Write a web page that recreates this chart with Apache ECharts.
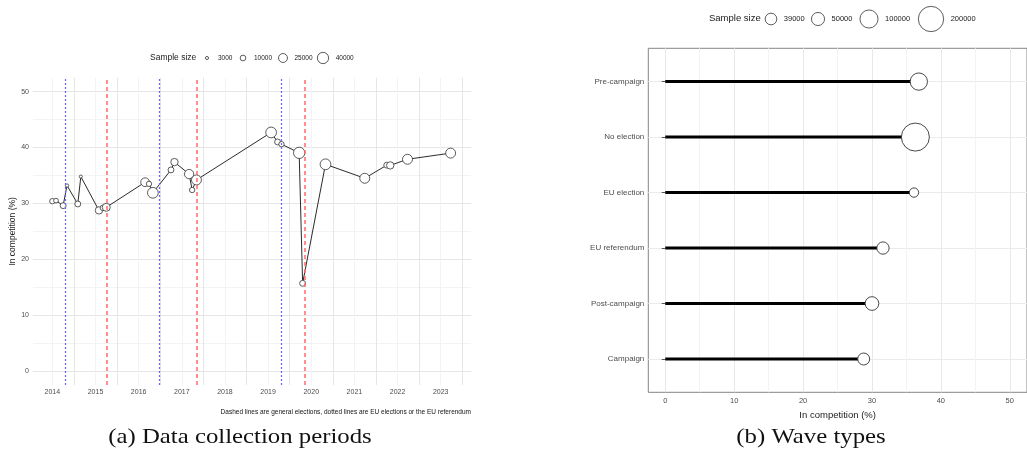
<!DOCTYPE html>
<html><head><meta charset="utf-8">
<script src="https://cdn.jsdelivr.net/npm/echarts@6/dist/echarts.min.js"></script>
<style>html,body{margin:0;padding:0;background:#fff}#c{width:1027px;height:456px}</style>
</head><body><div id="c"></div>
<script>
// ---- Panel (a): data collection periods ----
const periodDates = [2014.00, 2014.085, 2014.25, 2014.34, 2014.59, 2014.66, 2015.08, 2015.17, 2015.25,
  2016.15, 2016.24, 2016.33, 2016.75, 2016.83, 2017.17, 2017.24, 2017.34,
  2019.07, 2019.22, 2019.31, 2019.72, 2019.80, 2020.33, 2021.24, 2021.75, 2021.83, 2022.23, 2023.23];
const periodValues = [30.4, 30.5, 29.6, 33.2, 29.9, 34.8, 28.75, 29.2, 29.3,
  33.8, 33.5, 31.9, 36.0, 37.4, 35.25, 32.4, 34.2,
  42.7, 41.0, 40.6, 39.05, 15.7, 37.0, 34.5, 36.85, 36.8, 37.9, 39.0];
const periodSamples = [9000, 7000, 11000, 3500, 11000, 3000, 17000, 9000, 20000,
  24000, 9000, 36000, 11000, 17000, 27000, 9000, 31000,
  36000, 11000, 9000, 40000, 11000, 36000, 31000, 11000, 17000, 31000, 31000];
const generalElections = [2015.267, 2017.352, 2019.854];
const euVotes = [2014.309, 2016.479, 2019.314];
const yearTicks = [2014, 2015, 2016, 2017, 2018, 2019, 2020, 2021, 2022, 2023];
const leftYTicks = [0, 10, 20, 30, 40, 50];
const leftSizeBreaks = [3000, 10000, 25000, 40000];
const captionText = 'Dashed lines are general elections, dotted lines are EU elections or the EU referendum';

// ---- Panel (b): wave types ----
const waveTypes = ['Campaign', 'Post-campaign', 'EU referendum', 'EU election', 'No election', 'Pre-campaign'];
const waveValues = [28.8, 30.0, 31.6, 36.1, 36.3, 36.8];
const waveSamples = [41000, 55000, 43600, 23000, 246000, 91000];
const rightXTicks = [0, 10, 20, 30, 40, 50];
const rightSizeBreaks = [39000, 50000, 100000, 200000];

const subtitleA = '(a) Data collection periods';
const subtitleB = '(b) Wave types';

// size scales (area ~ linear in sample size)
const sizeLeft = n => Math.sqrt(0.0032 * n);
const sizeRight = n => Math.sqrt(15 + 0.003125 * n);

const FONT = '"Liberation Sans", Arial, sans-serif';
const SERIF = '"Liberation Serif", "DejaVu Serif", serif';
const halfYears = [];
for (let y = 2013.5; y <= 2024; y += 0.5) halfYears.push(y);
const fives = [];
for (let v = 0; v <= 50; v += 5) fives.push(v);

const chart = echarts.init(document.getElementById('c'), null, {renderer: 'canvas'});

// legend graphics
const graphics = [];
function sizeLegend(title, titleX, y, titleSize, breaks, centers, sizeFn, labelSize) {
  graphics.push({type: 'text', left: titleX, top: y - titleSize * 0.6,
    style: {text: title, font: titleSize + 'px ' + FONT, fill: '#1a1a1a'}});
  breaks.forEach((b, i) => {
    const r = sizeFn(b) / 2;
    graphics.push({type: 'circle', shape: {cx: centers[i], cy: y, r: r},
      style: {fill: '#fff', stroke: '#333', lineWidth: 0.8}});
    graphics.push({type: 'text', x: centers[i] + Math.max(r, 4) + 7, y: y,
      style: {text: String(b), font: labelSize + 'px ' + FONT, fill: '#1a1a1a', verticalAlign: 'middle'}});
  });
}
sizeLegend('Sample size', 150, 58, 8.5, leftSizeBreaks, [207, 243, 283, 323], sizeLeft, 6.5);
sizeLegend('Sample size', 709, 19, 9.5, rightSizeBreaks, [771, 818, 869, 931], sizeRight, 7.5);

graphics.push({type: 'text', x: 471, y: 412,
  style: {text: captionText, font: '6.5px ' + FONT, fill: '#111', align: 'right', verticalAlign: 'middle'}});
graphics.push({type: 'text', x: 240, y: 437, scaleX: 1.18, originX: 0, originY: 0,
  style: {text: subtitleA, font: '21px ' + SERIF, fill: '#111', align: 'center', verticalAlign: 'middle'}});
graphics.push({type: 'text', x: 811, y: 437, scaleX: 1.18, originX: 0, originY: 0,
  style: {text: subtitleB, font: '21px ' + SERIF, fill: '#111', align: 'center', verticalAlign: 'middle'}});

const markData = [];
generalElections.forEach(x => markData.push({xAxis: x,
  lineStyle: {color: '#ff6a6a', width: 1.5, type: [4, 3], opacity: 1}}));
euVotes.forEach(x => markData.push({xAxis: x,
  lineStyle: {color: '#6666ff', width: 1.2, type: [2, 2], opacity: 1}}));

const option = {
  animation: false,
  backgroundColor: '#fff',
  textStyle: {fontFamily: FONT},
  graphic: graphics,
  grid: [
    {left: 33, top: 77.7, width: 438, height: 307.3},
    {left: 648.3, top: 48.3, width: 388, height: 344, show: true, borderColor: '#858585', borderWidth: 1, backgroundColor: 'transparent'}
  ],
  xAxis: [
    {type: 'value', gridIndex: 0, min: 2013.552, max: 2023.702,
      axisLine: {show: false},
      axisTick: {show: false, customValues: halfYears.filter(v => v > 2013.552 && v < 2023.702)},
      axisLabel: {customValues: yearTicks, fontSize: 7, color: '#4d4d4d', margin: 4, fontFamily: FONT,
        formatter: v => String(Math.round(v))},
      splitLine: {show: true, lineStyle: {color: ['#f3f3f3', '#e6e6e6'], width: 1}}
    },
    {type: 'value', gridIndex: 1, min: -2.46, max: 52.5,
      name: 'In competition (%)', nameLocation: 'middle', nameGap: 14,
      nameTextStyle: {fontSize: 9.5, color: '#1a1a1a', fontFamily: FONT},
      axisLine: {show: false},
      axisTick: {show: false, customValues: fives},
      axisLabel: {customValues: rightXTicks, fontSize: 7.5, color: '#4d4d4d', margin: 5, fontFamily: FONT},
      splitLine: {show: true, lineStyle: {color: ['#e8e8e8', '#f3f3f3'], width: 1}}
    }
  ],
  yAxis: [
    {type: 'value', gridIndex: 0, min: -2.5, max: 52.5,
      name: 'In competition (%)', nameLocation: 'middle', nameGap: 16,
      nameTextStyle: {fontSize: 8.5, color: '#1a1a1a', fontFamily: FONT},
      axisLine: {show: false},
      axisTick: {show: false, customValues: fives},
      axisLabel: {customValues: leftYTicks, fontSize: 7, color: '#4d4d4d', margin: 4, fontFamily: FONT},
      splitLine: {show: true, lineStyle: {color: ['#e6e6e6', '#f3f3f3'], width: 1}}
    },
    {type: 'value', gridIndex: 1, min: 0.4, max: 6.6,
      axisLine: {show: false},
      axisTick: {show: true, customValues: [1, 2, 3, 4, 5, 6], length: 3.5, lineStyle: {color: '#555', width: 1}},
      axisLabel: {customValues: [1, 2, 3, 4, 5, 6], fontSize: 8, color: '#4d4d4d', margin: 4, fontFamily: FONT,
        formatter: v => waveTypes[Math.round(v) - 1]},
      splitLine: {show: true, lineStyle: {color: '#ebebeb', width: 1}}
    }
  ],
  series: [
    {type: 'line', xAxisIndex: 0, yAxisIndex: 0,
      data: periodDates.map((d, i) => [d, periodValues[i], periodSamples[i]]),
      showSymbol: true, showAllSymbol: true, symbol: 'circle',
      symbolSize: v => sizeLeft(v[2]),
      lineStyle: {color: '#2b2b2b', width: 1},
      itemStyle: {color: '#fff', borderColor: '#333', borderWidth: 0.8},
      z: 3,
      markLine: {silent: true, symbol: 'none', label: {show: false}, z: 5, data: markData}
    },
    {type: 'custom', xAxisIndex: 1, yAxisIndex: 1,
      data: waveValues.map((v, i) => [v, i + 1]),
      renderItem: (params, api) => {
        const p0 = api.coord([0, api.value(1)]);
        const p1 = api.coord([api.value(0), api.value(1)]);
        return {type: 'line', shape: {x1: p0[0], y1: p0[1], x2: p1[0], y2: p1[1]},
          style: {stroke: '#000', lineWidth: 3}};
      },
      z: 3
    },
    {type: 'scatter', xAxisIndex: 1, yAxisIndex: 1,
      data: waveValues.map((v, i) => [v, i + 1, waveSamples[i]]),
      symbolSize: v => sizeRight(v[2]),
      itemStyle: {color: '#fff', borderColor: '#333', borderWidth: 0.9, opacity: 1},
      z: 4
    }
  ]
};
chart.setOption(option);
</script></body></html>
